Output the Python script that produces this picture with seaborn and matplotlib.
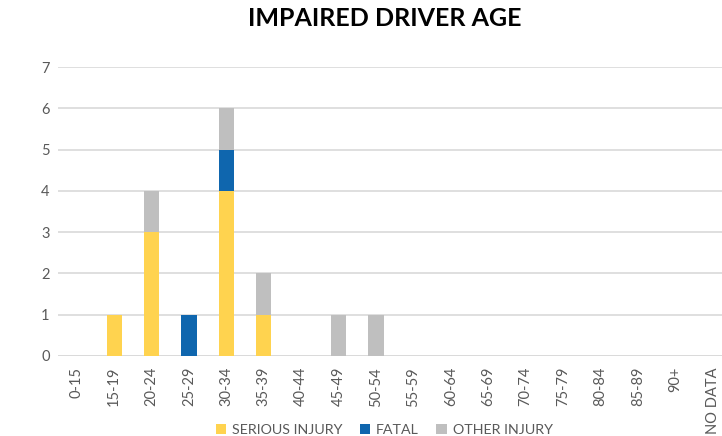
import pandas as pd
import matplotlib.pyplot as plt
import seaborn as sns

# Age groups and counts per injury type
age_groups = ['0-15', '15-19', '20-24', '25-29', '30-34', '35-39', '40-44',
              '45-49', '50-54', '55-59', '60-64', '65-69', '70-74', '75-79',
              '80-84', '85-89', '90+', 'NO DATA']
serious = [0, 1, 3, 0, 4, 1, 0, 0, 0, 0, 0, 0, 0, 0, 0, 0, 0, 0]
fatal = [0, 0, 0, 1, 1, 0, 0, 0, 0, 0, 0, 0, 0, 0, 0, 0, 0, 0]
other = [0, 0, 1, 0, 1, 1, 0, 1, 1, 0, 0, 0, 0, 0, 0, 0, 0, 0]

df = pd.DataFrame({'age': age_groups, 'serious': serious,
                   'fatal': fatal, 'other': other})
df['s_f'] = df['serious'] + df['fatal']
df['total'] = df['s_f'] + df['other']

sns.set_style('white')
plt.rcParams['font.family'] = ['Lato', 'DejaVu Sans']

colors = {'SERIOUS INJURY': '#FFD34F', 'FATAL': '#0F66AE', 'OTHER INJURY': '#BFBFBF'}
text_color = '#595959'

fig = plt.figure(figsize=(7.22, 4.36), dpi=100)
ax = fig.add_axes([0.0803, 0.1835, 0.9197, 0.6625])

# stacked bars drawn as cumulative layers, back to front
bar_kw = dict(width=0.41, saturation=1, ax=ax, linewidth=0, edgecolor='none')
sns.barplot(data=df, x='age', y='total', color=colors['OTHER INJURY'],
            label='OTHER INJURY', **bar_kw)
sns.barplot(data=df, x='age', y='s_f', color=colors['FATAL'],
            label='FATAL', **bar_kw)
sns.barplot(data=df, x='age', y='serious', color=colors['SERIOUS INJURY'],
            label='SERIOUS INJURY', **bar_kw)

handles, labels = ax.get_legend_handles_labels()
if ax.get_legend() is not None:
    ax.get_legend().remove()

ax.set_ylim(0, 7)
ax.set_xlim(-0.503, 17.25)
ax.set_yticks(range(0, 8))
ax.yaxis.grid(True, color='#D9D9D9', linewidth=1.2)
ax.set_axisbelow(True)
for s in ax.spines.values():
    s.set_visible(False)
ax.axhline(0, color='#D9D9D9', linewidth=1.2, zorder=0)

ax.set_xlabel('')
ax.set_ylabel('')
ax.tick_params(axis='both', length=0, labelsize=10.5, colors=text_color, pad=6)
ax.tick_params(axis='x', pad=8)
plt.setp(ax.get_xticklabels(), rotation=90)

fig.suptitle('IMPAIRED DRIVER AGE', x=0.533, y=0.985, fontsize=18,
             fontweight='bold', color='black')

order = [labels.index(l) for l in ['SERIOUS INJURY', 'FATAL', 'OTHER INJURY']]
fig.legend([handles[i] for i in order], [labels[i] for i in order],
           loc='lower center', bbox_to_anchor=(0.532, -0.03), ncol=3,
           frameon=False, fontsize=10.3, handlelength=0.75, handleheight=0.75,
           handletextpad=0.4, columnspacing=1.2, labelcolor=text_color)

fig.savefig('out.png', dpi=100)
